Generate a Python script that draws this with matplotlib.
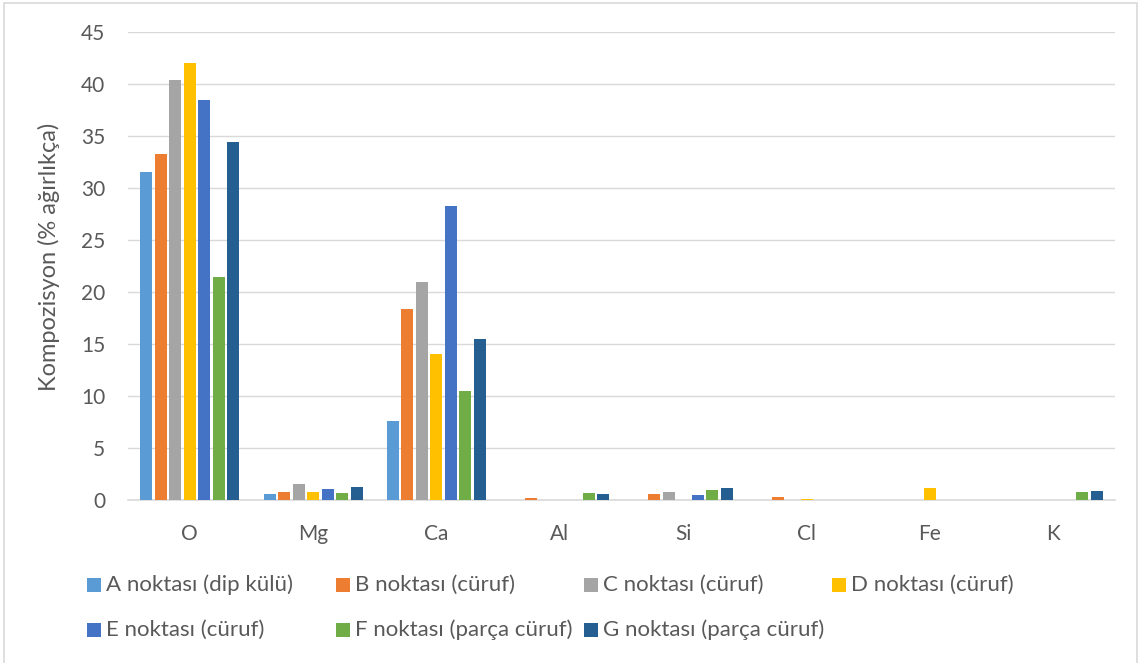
import matplotlib
matplotlib.use("Agg")
import matplotlib.pyplot as plt
from matplotlib.patches import Rectangle
import numpy as np

plt.rcParams['font.family'] = ['Lato', 'DejaVu Sans']

elements = ["O", "Mg", "Ca", "Al", "Si", "Cl", "Fe", "K"]
series_names = [
    "A noktası (dip külü)",
    "B noktası (cüruf)",
    "C noktası (cüruf)",
    "D noktası (cüruf)",
    "E noktası (cüruf)",
    "F noktası (parça cüruf)",
    "G noktası (parça cüruf)",
]
#            O     Mg    Ca    Al    Si    Cl    Fe    K
point_a = [31.5, 0.58, 7.6, 0.0, 0.0, 0.0, 0.0, 0.0]
point_b = [33.3, 0.77, 18.4, 0.15, 0.58, 0.26, 0.0, 0.0]
point_c = [40.4, 1.50, 21.0, 0.0, 0.77, 0.0, 0.0, 0.0]
point_d = [42.0, 0.74, 14.0, 0.0, 0.0, 0.12, 1.12, 0.0]
point_e = [38.5, 1.03, 28.3, 0.0, 0.45, 0.0, 0.0, 0.0]
point_f = [21.4, 0.67, 10.5, 0.67, 0.96, 0.0, 0.0, 0.74]
point_g = [34.4, 1.22, 15.5, 0.58, 1.15, 0.0, 0.0, 0.87]
series_values = [point_a, point_b, point_c, point_d, point_e, point_f, point_g]

colors = ["#5B9BD5", "#ED7D31", "#A5A5A5", "#FFC000", "#4472C4", "#70AD47", "#255E91"]
text_color = "#595959"

fig = plt.figure(figsize=(11.41, 6.63), dpi=100)
W, H = 1141, 663

# outer chart frame
fig.patches.append(Rectangle((4 / W, -0.01), (1137 - 4) / W, 1 - 3 / H + 0.01,
                             transform=fig.transFigure, fill=False,
                             edgecolor="#D9D9D9", linewidth=1.2))

ax_left, ax_right, ax_top, ax_bottom = 128, 1115, 32, 500
ax = fig.add_axes([ax_left / W, 1 - ax_bottom / H,
                   (ax_right - ax_left) / W, (ax_bottom - ax_top) / H])

x = np.arange(len(elements))
step = 0.1175
width = 0.097
for i, (vals, col) in enumerate(zip(series_values, colors)):
    ax.bar(x + (i - 3) * step, vals, width=width, color=col, zorder=3)

ax.set_xlim(-0.5, len(elements) - 0.5)
ax.set_ylim(0, 45)
ax.set_yticks(np.arange(0, 46, 5))
ax.set_xticks(x)
ax.set_xticklabels(elements)
ax.yaxis.grid(True, color="#D9D9D9", linewidth=1, zorder=0)
for side in ["top", "right", "left"]:
    ax.spines[side].set_visible(False)
ax.spines["bottom"].set_color("#D9D9D9")
ax.spines["bottom"].set_linewidth(1.2)
ax.tick_params(axis="both", length=0, labelsize=15, colors=text_color)
ax.tick_params(axis="y", pad=16.5)
ax.tick_params(axis="x", pad=17)
ax.set_ylabel("Kompozisyon (% ağırlıkça)", fontsize=17, color=text_color)
ax.yaxis.set_label_coords((60 - ax_left) / (ax_right - ax_left), 0.52)

# legend laid out in equal-width columns, two rows
col_x = [87, 336, 584, 832]
row_y = [585, 630]
sq = 14
for i, (name, col) in enumerate(zip(series_names, colors)):
    r, c = divmod(i, 4)
    px, py = col_x[c], row_y[r]
    fig.patches.append(Rectangle((px / W, 1 - (py + sq / 2) / H), sq / W, sq / H,
                                 transform=fig.transFigure, facecolor=col,
                                 edgecolor="none"))
    fig.text((px + sq + 5) / W, 1 - py / H, name, fontsize=16, color=text_color,
             va="center", ha="left")

fig.savefig("out.png", dpi=100)
